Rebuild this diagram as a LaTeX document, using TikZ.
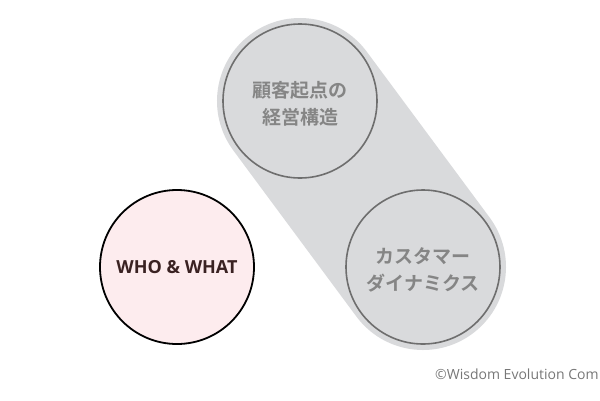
\documentclass[tikz,border=0pt]{standalone}
\usepackage{fontspec}
\setmainfont{Open Sans}
\newfontfamily\jpfont{Noto Sans CJK JP}[BoldFont={* Bold}]
\definecolor{capsule}{HTML}{D9DADC}
\definecolor{ringgray}{HTML}{6E6E6E}
\definecolor{txtgray}{HTML}{858585}
\definecolor{pinkfill}{HTML}{FDECEE}
\definecolor{darkbrown}{HTML}{3A2222}
\definecolor{copygray}{HTML}{777777}
\begin{document}
\begin{tikzpicture}[x=1pt,y=-1pt,
  graycircle/.style={circle, draw=ringgray, line width=1.6pt, minimum size=154pt, inner sep=0pt,
    font=\jpfont\bfseries\fontsize{19}{27}\selectfont, text=txtgray, align=center},
  whocircle/.style={circle, draw=black, fill=pinkfill, line width=1.8pt, minimum size=154pt, inner sep=0pt,
    font=\bfseries\fontsize{18}{22}\selectfont, text=darkbrown}]
\useasboundingbox (0,0) rectangle (600,400);
\coordinate (ct) at (300,101);
\coordinate (cb) at (423,267);
\draw[capsule, line width=166pt, line cap=round] (ct) -- (cb);
\node[graycircle] (top) at (ct) {};
\node[graycircle, draw=none] (toplbl) at (300,104) {顧客起点の\\経営構造};
\node[graycircle] (bot) at (cb) {};
\node[graycircle, draw=none] (botlbl) at (423,270) {カスタマー\\ダイナミクス};
\node[whocircle] (who) at (177,267) {WHO \& WHAT};
\node[anchor=west, text=copygray, font=\fontsize{14}{17}\selectfont, inner sep=0pt] (copy) at (435,374) {©Wisdom Evolution Com};
\end{tikzpicture}
\end{document}
